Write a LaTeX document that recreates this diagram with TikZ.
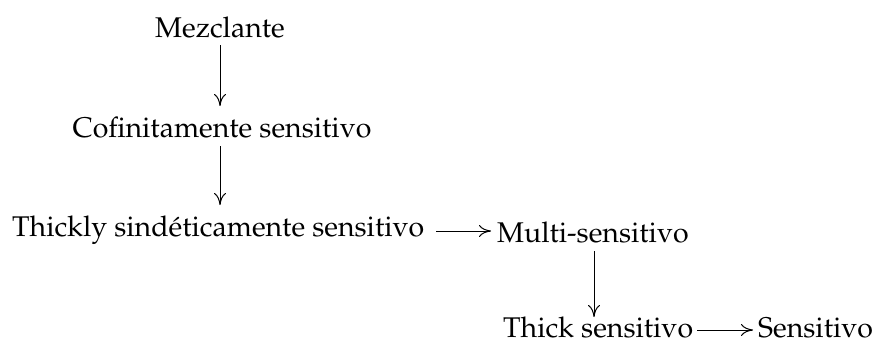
\documentclass[tikz,border=0pt]{standalone}
\usepackage[T1]{fontenc}
\usepackage{mathpazo}
\usetikzlibrary{arrows.meta}
\begin{document}
\begin{tikzpicture}[x=1pt,y=-1pt,
  lbl/.style={inner sep=0pt,anchor=base,font=\fontsize{28.5}{33}\selectfont},
  arr/.style={-{To[length=12pt,width=12pt]},line width=1pt}]
\useasboundingbox (0,0) rectangle (877,348);
\node[lbl] (m) at (220,37) {Mezclante};
\node[lbl] (c) at (222,137) {Cofinitamente sensitivo};
\node[lbl,anchor=base west] (t) at (12,236) {Thickly sindéticamente sensitivo};
\node[lbl,anchor=base west] (mu) at (497,242) {Multi-sensitivo};
\node[lbl,anchor=base west] (ts) at (503,337) {Thick sensitivo};
\node[lbl,anchor=base west] (s) at (758,337) {Sensitivo};
\coordinate (p1) at (220,45); \coordinate (q1) at (220,106);
\coordinate (p2) at (220,146); \coordinate (q2) at (220,205);
\coordinate (p3) at (436,231); \coordinate (q3) at (491,231);
\coordinate (p4) at (594,251); \coordinate (q4) at (594,317);
\coordinate (p5) at (697,330); \coordinate (q5) at (753,330);
\draw[arr] (p1) -- (q1);
\draw[arr] (p2) -- (q2);
\draw[arr] (p3) -- (q3);
\draw[arr] (p4) -- (q4);
\draw[arr] (p5) -- (q5);
\end{tikzpicture}
\end{document}
